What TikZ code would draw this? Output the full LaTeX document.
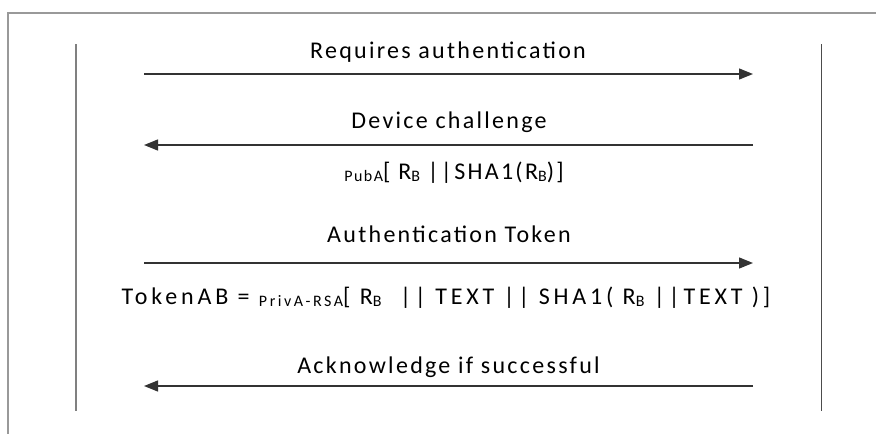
\documentclass[tikz,border=0pt]{standalone}
\usepackage{fontspec}
\setmainfont{Carlito}[LetterSpace=9.5]
\usetikzlibrary{arrows.meta}
\newcommand{\lowtxt}[1]{\raisebox{-0.12em}{\fontsize{16}{16}\selectfont #1}}
\tikzset{
  frameline/.style={draw=black!40, line width=1.5pt},
  lifeline/.style={draw=black!50, line width=1.5pt},
  msg/.style={draw=black!80, line width=1.3pt, -{Triangle[length=14pt,width=11pt]}},
  lbl/.style={font=\fontsize{24}{27}\selectfont, inner sep=0pt, anchor=base}
}
\begin{document}
\begin{tikzpicture}[x=1pt,y=-1pt]
  \useasboundingbox (0,0) rectangle (876,434);
  % partial outer frame
  \draw[frameline] (876,13) -- (8,13) -- (8,434);
  % lifelines
  \coordinate (aTop) at (76,44);
  \coordinate (aBot) at (76,411);
  \coordinate (bTop) at (821,44);
  \coordinate (bBot) at (821,411);
  \draw[lifeline] (aTop) -- (aBot);
  \draw[lifeline, draw=black!70, line width=1pt] (bTop) -- (bBot);
  % message end points
  \coordinate (m1a) at (144,74);  \coordinate (m1b) at (753,74);
  \coordinate (m2a) at (144,145); \coordinate (m2b) at (753,145);
  \coordinate (m3a) at (144,263); \coordinate (m3b) at (753,263);
  \coordinate (m4a) at (144,386); \coordinate (m4b) at (753,386);
  \draw[msg] (m1a) -- (m1b);
  \draw[msg] (m2b) -- (m2a);
  \draw[msg] (m3a) -- (m3b);
  \draw[msg] (m4b) -- (m4a);
  % labels
  \node[lbl] (t1) at (448,58) {Requires authentication};
  \node[lbl] (t2) at (449,128) {Device challenge};
  \node[lbl] (t3) at (454,179) {\lowtxt{PubA}[ R\lowtxt{B} ||SHA1(R\lowtxt{B})]};
  \node[lbl] (t4) at (449,242) {Authentication Token};
  \node[lbl] (t5) at (446,304) {\addfontfeature{LetterSpace=16}TokenAB = \lowtxt{PrivA-RSA}[ R\lowtxt{B}\ \ || TEXT || SHA1( R\lowtxt{B} ||TEXT )]};
  \node[lbl] (t6) at (448.5,373) {Acknowledge if successful};
\end{tikzpicture}
\end{document}
